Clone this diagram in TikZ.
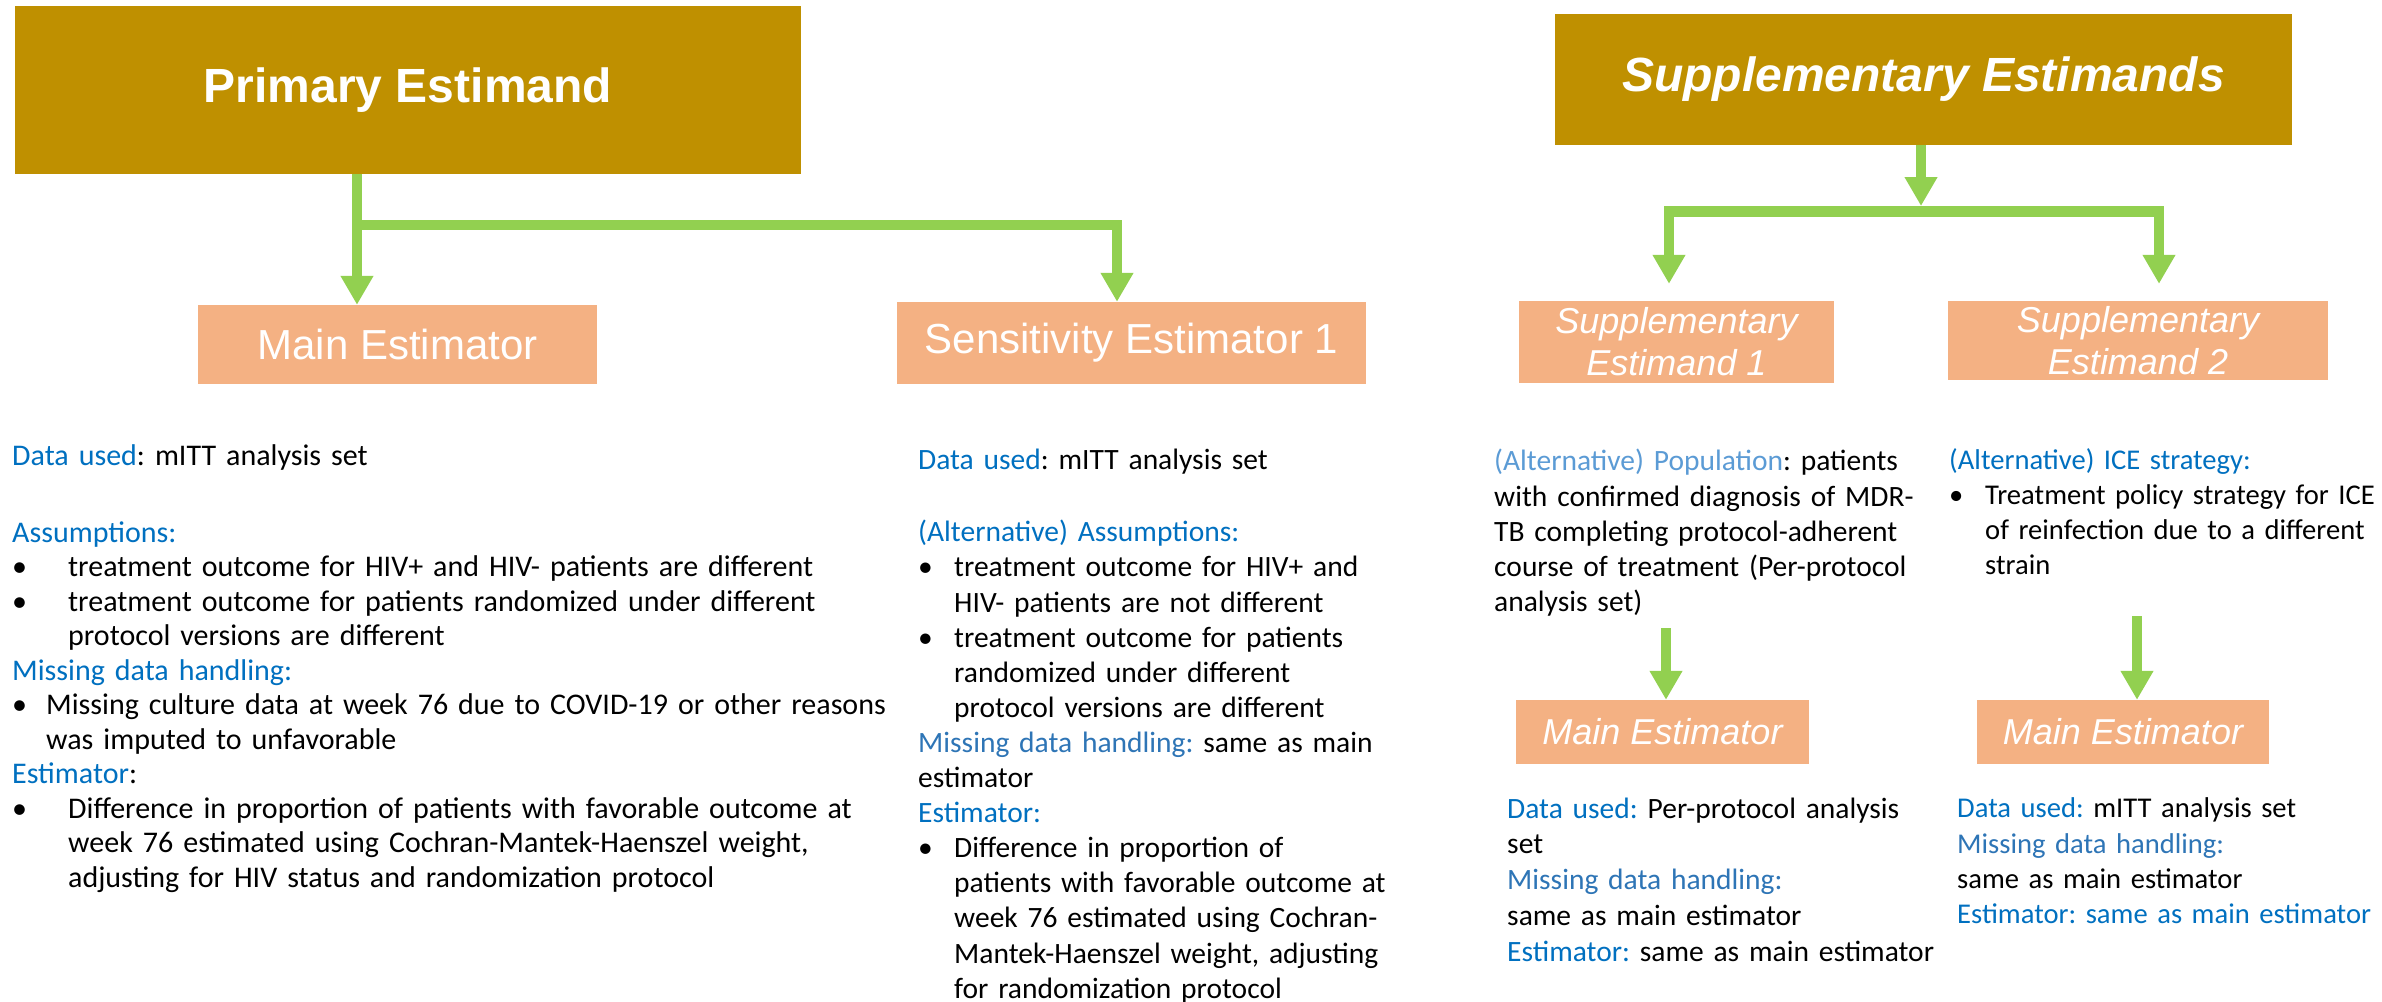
\documentclass[tikz,border=0pt]{standalone}
\usepackage{fontspec}
\setmainfont{Carlito}
\newfontfamily\arialfont{Liberation Sans}
\usetikzlibrary{arrows.meta}
\definecolor{gold}{HTML}{BF9000}
\definecolor{salmon}{HTML}{F4B183}
\definecolor{lgreen}{HTML}{92D050}
\definecolor{blueA}{HTML}{0070C0}
\definecolor{blueB}{HTML}{2E75B6}
\definecolor{blueC}{HTML}{5B9BD5}
\newcommand{\bA}[1]{\textcolor{blueA}{#1}}
\newcommand{\bB}[1]{\textcolor{blueB}{#1}}
\newcommand{\bC}[1]{\textcolor{blueC}{#1}}
\newcommand{\bul}[1]{\makebox[#1][l]{\textbullet}}
\frenchspacing
\hyphenpenalty=10000
\exhyphenpenalty=10000
\begin{document}
\begin{tikzpicture}[x=1pt,y=-1pt,
  topbox/.style={fill=gold, draw=none, inner sep=0pt, text=white},
  estbox/.style={fill=salmon, draw=none, inner sep=0pt, text=white, align=center},
  gline/.style={draw=lgreen, line width=10.5pt},
  garrow/.style={gline, -{Triangle[width=31pt,length=29pt]}},
  body/.style={anchor=north west, inner sep=0pt, align=left, text width=900pt},
]
\fill[white] (0,0) rectangle (2382,1001);
\useasboundingbox (0,0) rectangle (2382,1001);

% top boxes
\node[topbox, font=\arialfont\bfseries\fontsize{48}{56}\selectfont,
      minimum width=786pt, minimum height=168pt] (prim) at (408,90) {Primary Estimand};
\node[topbox, font=\arialfont\bfseries\itshape\fontsize{48}{56}\selectfont,
      minimum width=737pt, minimum height=131pt] (supp) at (1923.5,79.5) {Supplementary Estimands};

% estimator boxes
\node[estbox, font=\arialfont\fontsize{42}{48}\selectfont,
      minimum width=399pt, minimum height=79pt] (mainest) at (397.5,344.5) {Main Estimator};
\node[estbox, font=\arialfont\fontsize{42}{48}\selectfont,
      minimum width=469pt, minimum height=82pt] (sens) at (1131.5,343) {Sensitivity Estimator 1};
\node[estbox, font=\arialfont\itshape\fontsize{36}{42}\selectfont,
      minimum width=315pt, minimum height=82pt] (se1) at (1676.5,342) {Supplementary\\Estimand 1};
\node[estbox, font=\arialfont\itshape\fontsize{36}{42}\selectfont,
      minimum width=380pt, minimum height=79pt] (se2) at (2138,340.5) {Supplementary\\Estimand 2};
\node[estbox, font=\arialfont\itshape\fontsize{36}{42}\selectfont,
      minimum width=293pt, minimum height=64pt] (me3) at (1662.5,732) {Main Estimator};
\node[estbox, font=\arialfont\itshape\fontsize{36}{42}\selectfont,
      minimum width=292pt, minimum height=64pt] (me4) at (2123,732) {Main Estimator};

% connectors, left tree
\coordinate (pj) at (357,225);
\coordinate (sj) at (1117,225);
\draw[garrow] (prim.south -| pj) -- (mainest.north -| pj);
\draw[gline, line cap=rect] (pj) -- (sj);
\draw[garrow] (sj) -- (sens.north -| sj);

% connectors, right tree
\coordinate (sp) at (1921,206);
\coordinate (jl) at (1669,211.5);
\coordinate (jr) at (2159,211.5);
\draw[garrow] (supp.south -| sp) -- (sp);
\draw[gline, line cap=rect] (jl) -- (jr);
\draw[garrow, shorten >=17pt] (jl) -- (se1.north -| jl);
\draw[garrow, shorten >=17pt] (jr) -- (se2.north -| jr);

% lower arrows
\coordinate (a3) at (1666,628);
\coordinate (a4) at (2137,616);
\draw[garrow] (a3) -- (me3.north -| a3);
\draw[garrow] (a4) -- (me4.north -| a4);

% column 1 text
\node[body, font=\fontsize{30}{34.5}\selectfont] (c1) at (12,441) {%
\strut\bA{Data used}: mITT analysis set\\[42.5pt]
\bA{Assumptions:}\\
\bul{56pt}treatment outcome for HIV+ and HIV- patients are different\\
\bul{56pt}treatment outcome for patients randomized under different\\
\hspace*{56pt}protocol versions are different\\
\bA{Missing data handling:}\\
\bul{34pt}Missing culture data at week 76 due to COVID-19 or other reasons\\
\hspace*{34pt}was imputed to unfavorable\\
\bA{Estimator}:\\
\bul{56pt}Difference in proportion of patients with favorable outcome at\\
\hspace*{56pt}week 76 estimated using Cochran-Mantek-Haenszel weight,\\
\hspace*{56pt}adjusting for HIV status and randomization protocol};

% column 2 text
\node[body, font=\fontsize{29.5}{35.1}\selectfont] (c2) at (918,445) {%
\strut\bA{Data used}: mITT analysis set\\[37pt]
\bA{(Alternative) Assumptions:}\\
\bul{36pt}treatment outcome for HIV+ and\\
\hspace*{36pt}HIV- patients are not different\\
\bul{36pt}treatment outcome for patients\\
\hspace*{36pt}randomized under different\\
\hspace*{36pt}protocol versions are different\\
\bB{Missing data handling:} same as main\\
estimator\\
\bA{Estimator:}\\
\bul{36pt}Difference in proportion of\\
\hspace*{36pt}patients with favorable outcome at\\
\hspace*{36pt}week 76 estimated using Cochran-\\
\hspace*{36pt}Mantek-Haenszel weight, adjusting\\
\hspace*{36pt}for randomization protocol};

% column 3 text
\node[body, font=\fontsize{29.5}{35.25}\selectfont] (c3a) at (1494,446) {%
\strut\bC{(Alternative) Population}: patients\\
with confirmed diagnosis of MDR-\\
TB completing protocol-adherent\\
course of treatment (Per-protocol\\
analysis set)};
\node[body, font=\fontsize{29.5}{35.75}\selectfont] (c3b) at (1507,793) {%
\strut\bA{Data used:} Per-protocol analysis\\
set\\
\bB{Missing data handling:}\\
same as main estimator\\
\bA{Estimator:} same as main estimator};

% column 4 text
\node[body, font=\fontsize{28.6}{35}\selectfont] (c4a) at (1949,445) {%
\strut\bA{(Alternative) ICE strategy:}\\
\bul{36pt}Treatment policy strategy for ICE\\
\hspace*{36pt}of reinfection due to a different\\
\hspace*{36pt}strain};
\node[body, font=\fontsize{28.6}{35.3}\selectfont] (c4b) at (1957,793) {%
\strut\bA{Data used:} mITT analysis set\\
\bB{Missing data handling:}\\
same as main estimator\\
\bA{Estimator: same as main estimator}};
\end{tikzpicture}
\end{document}
